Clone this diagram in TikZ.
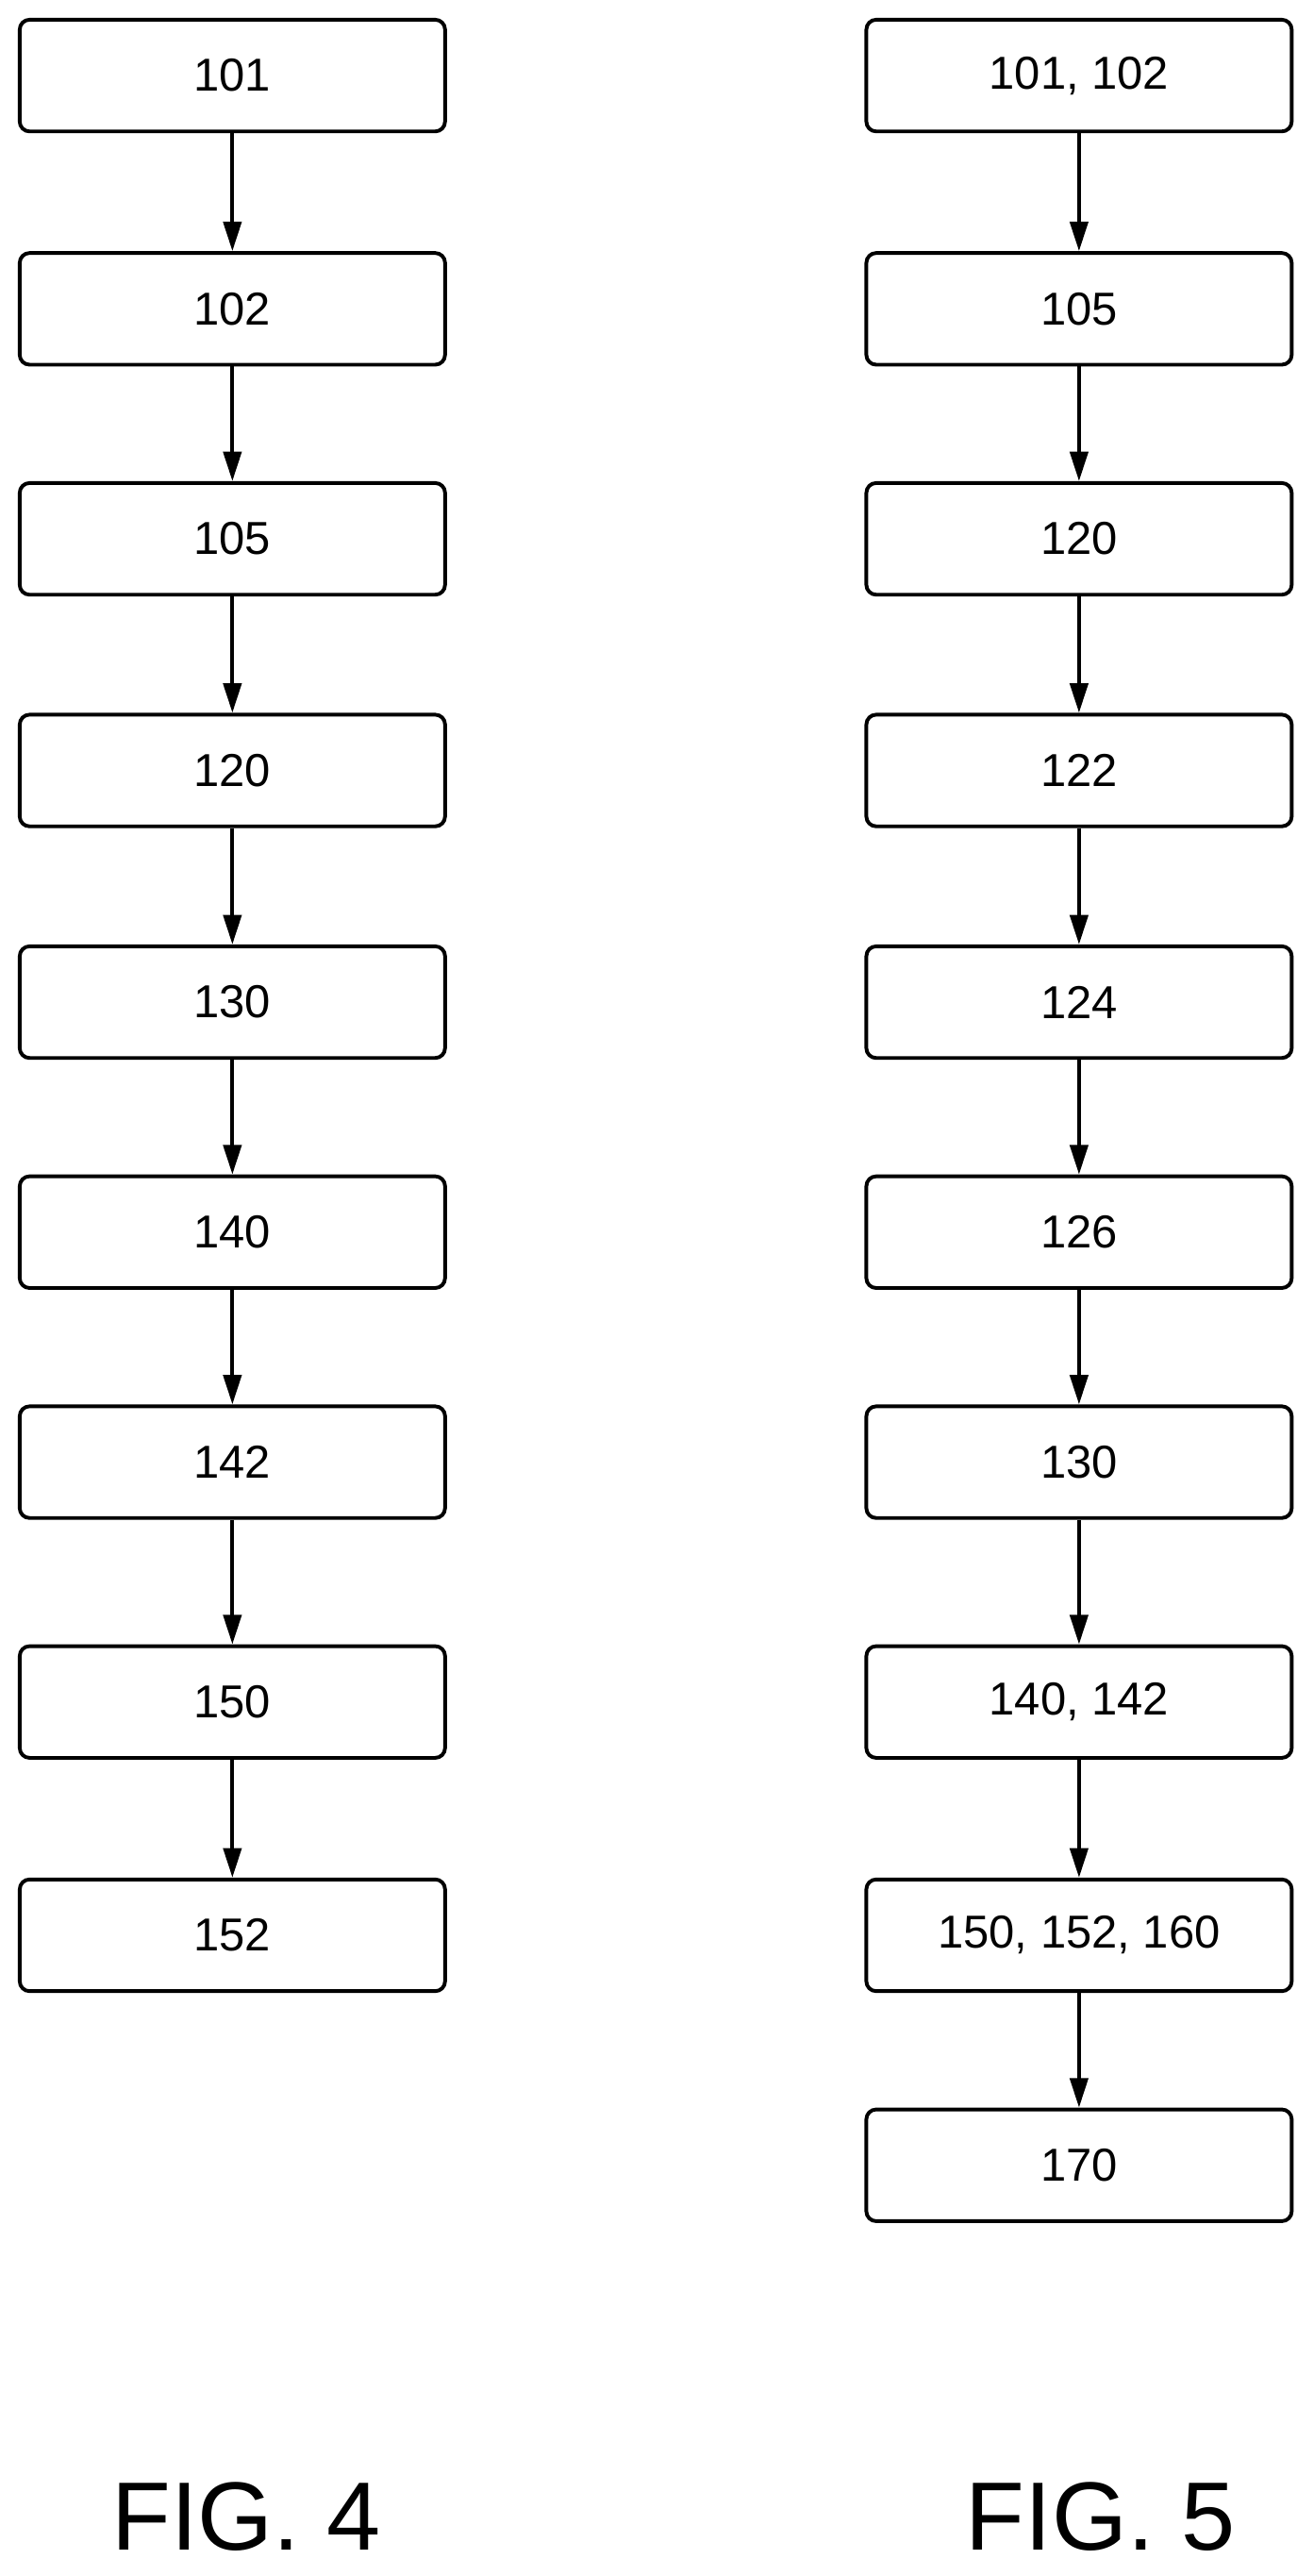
\documentclass[tikz,border=0pt]{standalone}
\usepackage{fontspec}
\setmainfont{Liberation Sans}
\usetikzlibrary{arrows.meta}
\begin{document}
\begin{tikzpicture}[x=0.05cm,y=-0.05cm,
 box/.style={draw,line width=3.2pt,rounded corners=0.3cm,minimum width=12.95cm,minimum height=3.4cm,font=\fontsize{40}{48}\selectfont,inner sep=0pt},
 arr/.style={-{Triangle[length=0.9cm,width=0.55cm]},line width=3.2pt},
 fig/.style={font=\fontsize{84}{100}\selectfont}]
\useasboundingbox (0,0) rectangle (800,1568);
\foreach \n/\y/\t in {a1/46/101,a2/188/102,a3/328/105,a4/469/120,a5/610/130,a6/750/140,a7/890/142,a8/1036/150,a9/1178/152}
  \node[box] (\n) at (141.5,\y) {\t};
\foreach \n/\y/\t in {b1/46/{101, 102},b2/188/105,b3/328/120,b4/469/122,b5/610/124,b6/750/126,b7/890/130,b8/1036/{140, 142},b9/1178/{150, 152, 160},b10/1318/170}
  \node[box] (\n) at (657,\y) {\t};
\foreach \i [count=\j from 2] in {1,...,8} \draw[arr] (a\i) -- (a\j);
\foreach \i [count=\j from 2] in {1,...,9} \draw[arr] (b\i) -- (b\j);
\node[fig] (f4) at (150,1532) {FIG. 4};
\node[fig] (f5) at (670,1532) {FIG. 5};
\end{tikzpicture}
\end{document}
